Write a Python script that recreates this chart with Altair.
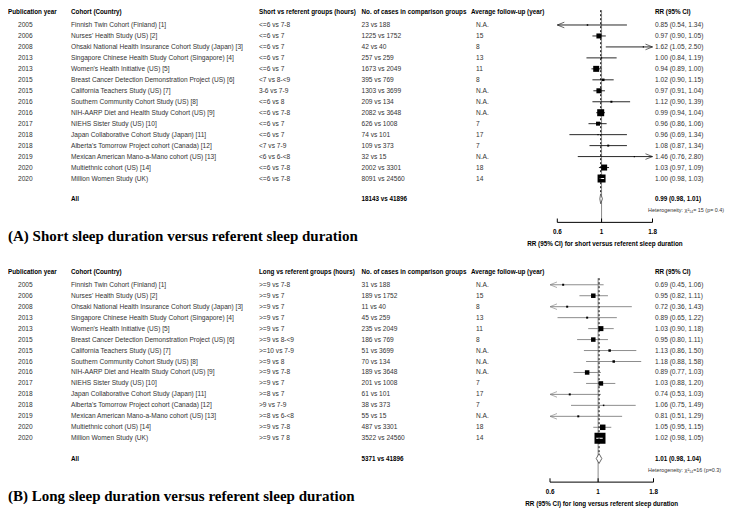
import altair as alt
import pandas as pd

# ---------------- data ----------------
years = ["2005", "2006", "2008", "2013", "2013", "2015", "2015", "2016", "2016",
         "2017", "2018", "2018", "2019", "2020", "2020"]
cohorts = [
    "Finnish Twin Cohort (Finland) [1]",
    "Nurses' Health Study (US) [2]",
    "Ohsaki National Health Insurance Cohort Study (Japan) [3]",
    "Singapore Chinese Health Study Cohort (Singapore) [4]",
    "Women's Health Initiative (US) [5]",
    "Breast Cancer Detection Demonstration Project (US) [6]",
    "California Teachers Study (US) [7]",
    "Southern Community Cohort Study (US) [8]",
    "NIH-AARP Diet and Health Study Cohort (US) [9]",
    "NIEHS Sister Study (US) [10]",
    "Japan Collaborative Cohort Study (Japan) [11]",
    "Alberta's Tomorrow Project cohort (Canada) [12]",
    "Mexican American Mano-a-Mano cohort (US) [13]",
    "Multiethnic cohort (US) [14]",
    "Million Women Study (UK)",
]
followup = ["N.A.", "15", "8", "13", "11", "8", "N.A.", "N.A.", "N.A.", "7", "17", "7",
            "N.A.", "18", "14"]

short_groups = ["<=6 vs 7-8", "<=6 vs 7", "<=6 vs 7", "<=6 vs 7", "<=6 vs 7", "<7 vs 8-<9",
                "3-6 vs 7-9", "<=6 vs 8", "<=6 vs 7-8", "<=6 vs 7", "<=6 vs 7", "<7 vs 7-9",
                "<6 vs 6-<8", "<=6 vs 7-8", "<=6 vs 7-8"]
short_cases = ["23 vs 188", "1225 vs 1752", "42 vs 40", "257 vs 259", "1673 vs 2049",
               "395 vs 769", "1303 vs 3699", "209 vs 134", "2082 vs 3648", "626 vs 1008",
               "74 vs 101", "109 vs 373", "32 vs 15", "2002 vs 3301", "8091 vs 24560"]
short_rr = [0.85, 0.97, 1.62, 1.00, 0.94, 1.02, 0.97, 1.12, 0.99, 0.96, 0.96, 1.08, 1.46, 1.03, 1.00]
short_lo = [0.54, 0.90, 1.05, 0.84, 0.89, 0.90, 0.91, 0.90, 0.94, 0.86, 0.69, 0.87, 0.76, 0.97, 0.98]
short_hi = [1.34, 1.05, 2.50, 1.19, 1.00, 1.15, 1.04, 1.39, 1.04, 1.06, 1.34, 1.34, 2.80, 1.09, 1.03]
short_box = [1.5, 5, 1.2, 1.2, 6, 2.5, 5, 2, 7, 4, 1.2, 2, 1.2, 6, 8]

long_groups = [">=9 vs 7-8", ">=9 vs 7", ">=9 vs 7", ">=9 vs 7", ">=9 vs 7", ">=9 vs 8-<9",
               ">=10 vs 7-9", ">=9 vs 8", ">=9 vs 7-8", ">=9 vs 7", ">=8 vs 7", ">9 vs 7-9",
               ">=8 vs 6-<8", ">=9 vs 7-8", ">=9 vs 7 8"]
long_cases = ["31 vs 188", "189 vs 1752", "11 vs 40", "45 vs 259", "235 vs 2049", "186 vs 769",
              "51 vs 3699", "70 vs 134", "189 vs 3648", "201 vs 1008", "61 vs 101", "38 vs 373",
              "55 vs 15", "487 vs 3301", "3522 vs 24560"]
long_rr = [0.69, 0.95, 0.72, 0.89, 1.03, 0.95, 1.13, 1.18, 0.89, 1.03, 0.74, 1.06, 0.81, 1.05, 1.02]
long_lo = [0.45, 0.82, 0.36, 0.65, 0.90, 0.80, 0.86, 0.88, 0.77, 0.88, 0.53, 0.75, 0.51, 0.95, 0.98]
long_hi = [1.06, 1.11, 1.43, 1.22, 1.18, 1.11, 1.50, 1.58, 1.03, 1.20, 1.03, 1.49, 1.29, 1.15, 1.05]
long_box = [2, 4.5, 2, 2, 5, 4.5, 2.5, 2.5, 4.5, 4.5, 2, 1.5, 2, 5.5, 11]

totals = ["18143 vs 41896", "5371 vs 41896"]
pooled = [[0.99, 0.98, 1.01], [1.01, 0.98, 1.04]]
het_texts = ["Heterogeneity: \u03c7\u00b2\u2081\u2084= 15 (p= 0.4)",
             "Heterogeneity: \u03c7\u00b2\u2081\u2084=16 (p=0.3)"]
titles = ["(A) Short sleep duration versus referent sleep duration",
          "(B) Long sleep duration versus referent sleep duration"]
axis_titles = ["RR (95% CI) for short versus referent sleep duration",
               "RR (95% CI) for long versus referent sleep duration"]
group_headers = ["Short vs referent groups (hours)", "Long vs referent groups (hours)"]
other_headers = ["Publication year", "Cohort (Country)", "No. of cases in comparison groups",
                 "Average follow-up (year)", "RR (95% CI)"]
ticks = [0.6, 1.0, 1.8]
tick_labels = ["0.6", "1", "1.8"]
x_domain = [0.6, 1.8]

groups = [short_groups, long_groups]
cases = [short_cases, long_cases]
rrs = [short_rr, long_rr]
los = [short_lo, long_lo]
his = [short_hi, long_hi]
boxes = [short_box, long_box]

# ---------------- layout ----------------
W, H = 720, 500
OFF = [0.0, 23.69]
R_HEAD, R_ALL, R_HET, R_AXIS, R_TICK, R_AXT, R_TITLE = -0.15, 16.85, 17.9, 19.0, 19.9, 20.95, 20.28
REF_TOP = [-0.35, 0.4]
XR = [[549.3, 644.5], [542.0, 645.5]]
CX = dict(year=10, cohort=63, group=251, cases=353.5, fhead=463, follow=468, rr=647, het=640)
SANS = "Liberation Sans"
SERIF = "Liberation Serif"
FS = 6.6
FSB = 6.3
TXT = "#333333"
CI_COL = ["#111111", "#808080"]
LEFT_ARROW = "M2,-0.8L0,0L2,0.8"
RIGHT_ARROW = "M-2,-0.8L0,0L-2,0.8"

YS = alt.Scale(domain=[-0.55, 45.05], reverse=True, nice=False, zero=False)


def Y(field="row"):
    return alt.Y(f"{field}:Q", scale=YS, axis=None)


# ---------------- tables ----------------
rows = []
for p in range(2):
    for i in range(15):
        rows.append(dict(panel=p, row=OFF[p] + 1 + i, year=years[i], cohort=cohorts[i],
                         group=groups[p][i], cases=cases[p][i], follow=followup[i],
                         rr=rrs[p][i], lo=los[p][i], hi=his[p][i], box=boxes[p][i],
                         last=(i == 14)))
study = pd.DataFrame(rows)
study["rrtext"] = study.apply(lambda r: f"{r.rr:.2f} ({r.lo:.2f}, {r.hi:.2f})", axis=1)
study["lo_c"] = study["lo"].clip(lower=x_domain[0])
study["hi_c"] = study["hi"].clip(upper=x_domain[1])
study["box2"] = study["box"] ** 2

head = pd.DataFrame([dict(row=OFF[p] + R_HEAD, year=other_headers[0], cohort=other_headers[1],
                          group=group_headers[p], cases=other_headers[2],
                          follow=other_headers[3], rr=other_headers[4]) for p in range(2)])
summ = pd.DataFrame([dict(row=OFF[p] + R_ALL, cohort="All", cases=totals[p],
                          rr=f"{pooled[p][0]:.2f} ({pooled[p][1]:.2f}, {pooled[p][2]:.2f})")
                     for p in range(2)])
het = pd.DataFrame([dict(row=OFF[p] + R_HET, t=het_texts[p]) for p in range(2)])
ttl = pd.DataFrame([dict(row=OFF[p] + R_TITLE, t=titles[p]) for p in range(2)])


def text_layer(df, field, x, bold=False, size=FS, color=TXT, font=SANS, align="left"):
    return alt.Chart(df).mark_text(
        align=align, baseline="middle", fontSize=size, font=font,
        fontWeight="bold" if bold else "normal", color=color
    ).encode(x=alt.value(x), y=Y(), text=f"{field}:N")


layers = []
# header row
for f, xk in [("year", "year"), ("cohort", "cohort"), ("group", "group"), ("cases", "cases"),
              ("follow", "fhead"), ("rr", "rr")]:
    layers.append(text_layer(head, f, CX[xk] if f != "year" else 0, bold=True, size=FSB,
                             color="#000"))
# study rows
for f, xk in [("year", "year"), ("cohort", "cohort"), ("group", "group"), ("cases", "cases"),
              ("follow", "follow"), ("rrtext", "rr")]:
    layers.append(text_layer(study, f, CX[xk]))
# summary rows
for f, xk in [("cohort", "cohort"), ("cases", "cases"), ("rr", "rr")]:
    layers.append(text_layer(summ, f, CX[xk], bold=True, size=FSB, color="#000"))
layers.append(text_layer(het, "t", CX["het"], size=5.4))
layers.append(text_layer(ttl, "t", 0, bold=True, size=15, color="#000", font=SERIF))

# ---------------- forest panels ----------------
for p in range(2):
    S = alt.Scale(type="log", domain=x_domain, range=XR[p], nice=False, zero=False)

    def X(field):
        return alt.X(f"{field}:Q", scale=S, axis=None)

    d = study[study.panel == p]
    off = OFF[p]
    col = CI_COL[p]

    ref = pd.DataFrame(dict(x=[1.0], y1=[off + REF_TOP[p]], y2=[off + R_AXIS]))
    layers.append(alt.Chart(ref).mark_rule(color="#8a8a8a", strokeWidth=1).encode(
        x=X("x"), y=Y("y1"), y2="y2"))

    layers.append(alt.Chart(d).mark_rule(color=col, strokeWidth=0.9).encode(
        x=X("lo_c"), x2="hi_c", y=Y()))
    left = d[d.lo < x_domain[0]]
    right = d[d.hi > x_domain[1]]
    if len(left):
        layers.append(alt.Chart(left).mark_point(shape=LEFT_ARROW, filled=False, size=49,
                                                 strokeWidth=0.9, color=col).encode(
            x=X("lo_c"), y=Y()))
    if len(right):
        layers.append(alt.Chart(right).mark_point(shape=RIGHT_ARROW, filled=False, size=49,
                                                  strokeWidth=0.9, color=col).encode(
            x=X("hi_c"), y=Y()))
    layers.append(alt.Chart(d).mark_square(color="black", opacity=1, strokeWidth=0).encode(
        x=X("rr"), y=Y(), size=alt.Size("box2:Q", scale=None, legend=None)))
    layers.append(alt.Chart(d[d["last"]]).mark_rule(color="white", strokeWidth=1).encode(
        x=X("lo_c"), x2="hi_c", y=Y()))

    dash = pd.DataFrame(dict(x=[pooled[p][0]], y1=[off + REF_TOP[p]], y2=[off + R_ALL - 0.45]))
    layers.append(alt.Chart(dash).mark_rule(color="black", strokeWidth=1,
                                            strokeDash=[2, 2]).encode(
        x=X("x"), y=Y("y1"), y2="y2"))

    dia = pd.DataFrame(dict(y=[off + R_ALL - 0.45, off + R_ALL, off + R_ALL + 0.45],
                            xl=[pooled[p][0], pooled[p][1], pooled[p][0]],
                            xr=[pooled[p][0], pooled[p][2], pooled[p][0]]))
    layers.append(alt.Chart(dia).mark_area(orient="horizontal", fill="white", stroke="#444",
                                           strokeWidth=0.8).encode(
        y=Y("y"), x=X("xl"), x2="xr"))

    ax = pd.DataFrame(dict(x1=[x_domain[0]], x2=[x_domain[1]], y=[off + R_AXIS]))
    layers.append(alt.Chart(ax).mark_rule(color="black", strokeWidth=1).encode(
        x=X("x1"), x2="x2", y=Y("y")))
    tk = pd.DataFrame(dict(t=ticks, lab=tick_labels, y1=[off + R_AXIS] * 3,
                           y2=[off + R_AXIS - 0.35] * 3, yl=[off + R_TICK] * 3))
    layers.append(alt.Chart(tk).mark_rule(color="black", strokeWidth=1).encode(
        x=X("t"), y=Y("y1"), y2="y2"))
    layers.append(alt.Chart(tk).mark_text(align="center", baseline="middle", fontSize=FSB,
                                          font=SANS, fontWeight="bold", color="#000").encode(
        x=X("t"), y=Y("yl"), text="lab:N"))
    at = pd.DataFrame(dict(row=[off + R_AXT], t=[axis_titles[p]]))
    layers.append(text_layer(at, "t", (XR[p][0] + XR[p][1]) / 2, bold=True, size=FSB,
                             color="#000", align="center"))

chart = alt.layer(*layers).resolve_scale(x="independent").properties(
    width=W, height=H, padding=0, autosize=alt.AutoSizeParams(type="none")
).configure_view(stroke=None)

chart.save("out.html", embed_options={"renderer": "svg", "actions": False})
